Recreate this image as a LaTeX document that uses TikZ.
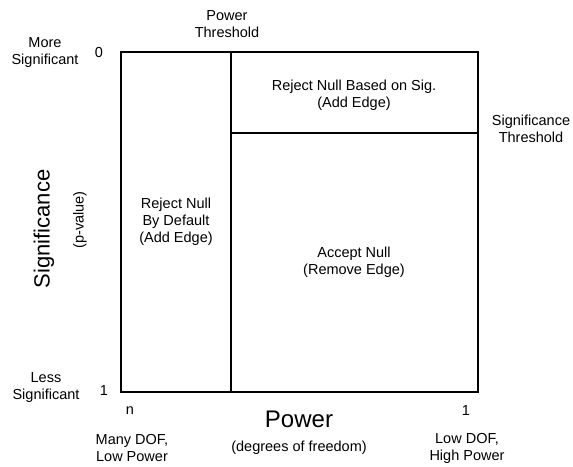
\documentclass[tikz,border=0pt]{standalone}
\usepackage{fontspec}
\setmainfont{Liberation Sans}
\usetikzlibrary{positioning}

\tikzset{
    lbl/.style={align=center, font=\fontsize{14.5}{17}\selectfont, inner sep=0pt},
    biglbl/.style={font=\fontsize{24}{28}\selectfont, inner sep=0pt},
    frame/.style={line width=2.5pt}
}

\begin{document}
\begin{tikzpicture}[x=1pt, y=-1pt]
    \useasboundingbox (0,0) rectangle (573,466);

    \coordinate (TL) at (121,52);
    \coordinate (TR) at (478,52);
    \coordinate (BL) at (121,392);
    \coordinate (BR) at (478,392);
    \coordinate (PT) at (231,52);
    \coordinate (PB) at (231,392);
    \coordinate (SL) at (231,133);
    \coordinate (SR) at (478,133);

    \draw[frame] (TL) rectangle (BR);
    \draw[frame] (PT) -- (PB);
    \draw[frame] (SL) -- (SR);

    % region labels
    \node[lbl] (sig) at (354,95) {Reject Null Based on Sig.\\(Add Edge)};
    \node[lbl] (default) at (176,222) {Reject Null\\By Default\\(Add Edge)};
    \node[lbl] (accept) at (354,262) {Accept Null\\(Remove Edge)};

    % thresholds
    \node[lbl] (powthr) at (227,24) {Power\\Threshold};
    \node[lbl] (sigthr) at (531,129) {Significance\\Threshold};

    % vertical axis
    \node[lbl] (more) at (45,53) {More\\Significant};
    \node[lbl] (zero) at (99,53) {0};
    \node[lbl] (less) at (46,388) {Less\\Significant};
    \node[lbl] (one) at (104,391) {1};
    \node[font=\fontsize{22}{26}\selectfont, inner sep=0pt, rotate=90] (sigaxis) at (44,229) {Significance};
    \node[lbl, rotate=90] (pval) at (80,220) {(p-value)};

    % horizontal axis
    \node[lbl] (n) at (130,411) {n};
    \node[lbl] (onex) at (466,411) {1};
    \node[biglbl] (power) at (299,419) {Power};
    \node[lbl] (dof) at (299,448) {(degrees of freedom)};
    \node[lbl] (many) at (132,448) {Many DOF,\\Low Power};
    \node[lbl] (low) at (467,448) {Low DOF,\\High Power};
\end{tikzpicture}
\end{document}
